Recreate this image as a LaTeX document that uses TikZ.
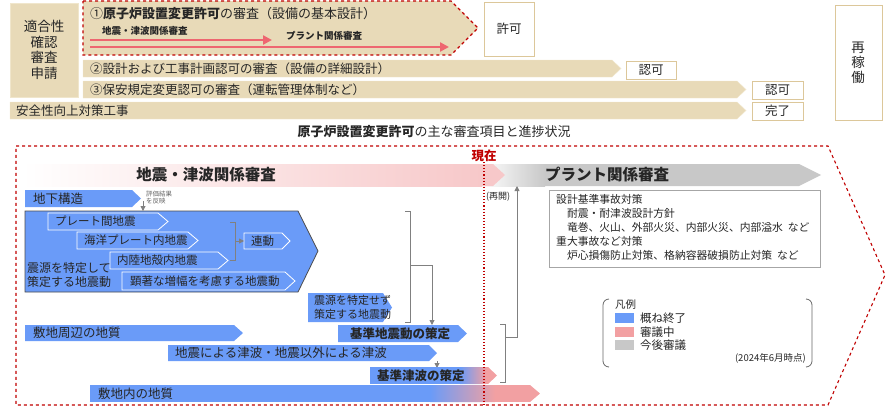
\documentclass[tikz,border=0pt]{standalone}
\usepackage{fontspec}
\setmainfont{Noto Sans CJK JP}
\usetikzlibrary{arrows.meta}
\definecolor{tan}{HTML}{E8DAB8}
\definecolor{tanb}{HTML}{F0E6CC}
\definecolor{tanline}{HTML}{DCC79A}
\definecolor{blu}{HTML}{6A9BF8}
\definecolor{pnk}{HTML}{F2A0A2}
\definecolor{lpnk}{HTML}{F7C8C9}
\definecolor{gry}{HTML}{C8C8C8}
\definecolor{dred}{HTML}{C00000}
\definecolor{arr}{HTML}{EE6670}
\newcommand\mypent[6][]{\path[#1] (#2,#3) -- ({#4-#6},#3) -- (#4,{(#3+#5)/2}) -- ({#4-#6},#5) -- (#2,#5) -- cycle;}
\tikzset{
 t/.style={font=\fontsize{12.5}{13}\selectfont,inner sep=0pt,anchor=west,text=black!85},
 tb/.style={t,font=\fontsize{11.5}{12}\selectfont},
 ts/.style={font=\fontsize{10.5}{12}\selectfont,inner sep=0pt,anchor=west,text=black!85},
 wbox/.style={draw=tanline,line width=0.8pt,fill=white},
 gline/.style={draw=black!50,line width=0.9pt},
 garr/.style={gline,-{Triangle[length=5pt,width=5pt]}},
}
\begin{document}
\begin{tikzpicture}[x=1pt,y=-1pt]
\useasboundingbox (0,0) rectangle (889,410);
% ---------- top section
\path[fill=tan,draw=tanb,line width=1pt] (10,3) rectangle (78,97);
\node[t,anchor=center,align=center,font=\fontsize{13.5}{15.5}\selectfont] (app) at (44,50) {適合性\\確認\\審査\\申請};
\mypent[fill=tan,draw=dred,dashed,line width=1.1pt]{83}{1}{478}{55}{27}
\node[t,font=\fontsize{13}{13}\selectfont] (r1) at (90,14) {①\textbf{原子炉設置変更許可}の審査（設備の基本設計）};
\draw[arr,line width=2.5pt,-{Triangle[length=9pt,width=9pt]}] (90,40) -- (272,40);
\draw[arr,line width=2.5pt,-{Triangle[length=9pt,width=9pt]}] (90,47) -- (449,47);
\node[ts,font=\bfseries\fontsize{9.5}{10}\selectfont] (l1) at (102,31) {地震・津波関係審査};
\node[ts,font=\bfseries\fontsize{9.5}{10}\selectfont] (l2) at (286,36) {プラント関係審査};
\path[wbox] (484,2) rectangle (534,56);
\node[t,anchor=center] (kyoka) at (509,29) {許可};
\mypent[fill=tan,draw=tanb]{83}{60}{621}{77}{9}
\node[t] (r2) at (90,69) {②設計および工事計画認可の審査（設備の詳細設計）};
\path[wbox] (626,61) rectangle (676,79);
\node[t,anchor=center] (n2) at (651,70) {認可};
\mypent[fill=tan,draw=tanb]{83}{81}{746}{98}{9}
\node[t] (r3) at (90,90) {③保安規定変更認可の審査（運転管理体制など）};
\path[wbox] (752,81) rectangle (803,99);
\node[t,anchor=center] (n3) at (777.5,90) {認可};
\mypent[fill=tan,draw=tanb]{10}{102}{746}{119}{9}
\node[t] (r4) at (16,111) {安全性向上対策工事};
\path[wbox] (752,102) rectangle (803,120);
\node[t,anchor=center] (n4) at (777.5,111) {完了};
\path[wbox] (835,5) rectangle (882,120);
\node[t,anchor=center,align=center,font=\fontsize{13.5}{15}\selectfont] (sai) at (858,63) {再\\稼\\働};
\node[t,anchor=center,font=\fontsize{13}{13}\selectfont] (cap) at (434,132) {\textbf{原子炉設置変更許可}の主な審査項目と進捗状況};
% ---------- bottom frame
\draw[dred,dashed,line width=1.1pt] (16,146) -- (828,146) -- (885,275) -- (828,405) -- (16,405) -- cycle;
\node[t,text=dred,font=\bfseries\fontsize{12.5}{13}\selectfont,anchor=center] (now) at (484,156) {現在};
% header bands
\mypent[fill=gry]{480}{164}{821}{186}{22}
\path[left color=white,right color=gry] (480,164) rectangle (545,186);
\path[left color=white,right color=lpnk] (22,164) rectangle (482,186);
\path[fill=lpnk] (482,164) -- (493,164) -- (505,175) -- (493,186) -- (482,186) -- cycle;
\node[t,font=\bfseries\fontsize{15.5}{16}\selectfont,anchor=center] (h1) at (206,175) {地震・津波関係審査};
\node[t,font=\bfseries\fontsize{15.5}{16}\selectfont,anchor=center] (h2) at (607,175) {プラント関係審査};
% left content
\mypent[fill=blu]{25}{190}{141}{207}{9}
\node[t] (chika) at (33,199) {地下構造};
\node[t,font=\fontsize{6.5}{7}\selectfont,align=left,text=black!60] (hyo) at (146,198) {評価結果\\を反映};
\draw[garr] (143,201) -- (143,211);
\path[fill=blu,draw=black!70,line width=0.8pt] (25,211) -- (298,211) -- (318,251) -- (298,292) -- (25,292) -- cycle;
\tikzset{wa/.style={fill=blu,draw=white,line width=0.8pt}}
\mypent[wa]{48}{213}{168}{230}{10}
\node[tb] (p1) at (55,221.5) {プレート間地震};
\mypent[wa]{77}{232}{198}{249}{10}
\node[tb] (p2) at (84,240.5) {海洋プレート内地震};
\mypent[wa]{110}{252}{228}{269}{10}
\node[tb] (p3) at (117,260.5) {内陸地殻内地震};
\mypent[wa]{122}{272}{295}{290}{10}
\node[tb] (p4) at (130,281) {顕著な増幅を考慮する地震動};
\node[t,align=left,font=\fontsize{12}{13.5}\selectfont] (p5) at (27,275) {震源を特定して\\策定する地震動};
\draw[gline] (230,222) -- (235,222) -- (235,260) -- (230,260);
\mypent[wa]{244}{233}{290}{249}{8}
\node[tb] (ren) at (251,241) {連動};
\draw[garr] (235,241) -- (244,241);
\mypent[fill=blu]{308}{293}{392}{322}{9}
\node[t,align=left,font=\fontsize{11}{13.5}\selectfont] (p6) at (314,307.5) {震源を特定せず\\策定する地震動};
\draw[gline] (405,211) -- (410,211) -- (410,322) -- (405,322);
\mypent[fill=blu]{25}{325}{243}{341}{9}
\node[t] (sh) at (33,333) {敷地周辺の地質};
\mypent[fill=blu]{338}{325}{467}{342}{9}
\node[t,font=\bfseries\fontsize{12.5}{13}\selectfont] (kj) at (350,333.5) {基準地震動の策定};
\draw[garr] (410,265) -- (432,265) -- (432,325);
\mypent[fill=blu]{168}{345}{437}{361}{8}
\node[t] (tsu) at (175,353) {地震による津波・地震以外による津波};
\draw[garr] (437,361) -- (437,368);
\begin{scope}
\mypent[clip]{370}{367}{497}{384}{9}
\fill[blu] (370,367) rectangle (460,384);
\path[left color=blu,right color=pnk] (460,367) rectangle (486,384);
\fill[pnk] (486,367) rectangle (500,384);
\end{scope}
\node[t,font=\bfseries\fontsize{12.5}{13}\selectfont] (kt) at (377,375.5) {基準津波の策定};
\begin{scope}
\mypent[clip]{90}{385}{540}{402}{10}
\fill[blu] (90,385) rectangle (430,402);
\path[left color=blu,right color=pnk] (430,385) rectangle (495,402);
\fill[pnk] (495,385) rectangle (541,402);
\end{scope}
\node[t] (shn) at (98,393.5) {敷地内の地質};
\draw[gline] (500,324) -- (505,324) -- (505,382) -- (500,382);
\draw[garr] (505,337) -- (517,337) -- (517,186);
\node[ts,font=\fontsize{9}{10}\selectfont] (sk) at (486,197) {(再開)};
\draw[dred,dotted,line width=1.1pt] (484,162) -- (484,405);
% right text box
\path[draw=black!35,line width=0.8pt,fill=white] (549,190) rectangle (820,267);
\node[ts,align=left,anchor=north west,font=\fontsize{10.8}{14}\selectfont] (plant) at (556,194) {設計基準事故対策\\\quad 耐震・耐津波設計方針\\\quad 竜巻、火山、外部火災、内部火災、内部溢水\ \ など\\重大事故など対策\\\quad 炉心損傷防止対策、格納容器破損防止対策\ \ など};
% legend
\draw[black!60,line width=0.8pt,rounded corners=6pt] (609,299) -- (603,299) -- (603,367) -- (609,367);
\draw[black!60,line width=0.8pt,rounded corners=6pt] (806,299) -- (812,299) -- (812,367) -- (806,367);
\node[ts] (hanrei) at (615,305) {凡例};
\fill[blu] (615,313) rectangle (634,323);
\fill[pnk] (615,327) rectangle (634,337);
\fill[gry] (615,340) rectangle (634,350);
\node[ts,font=\fontsize{11.5}{12}\selectfont] (lg1) at (640,318) {概ね終了};
\node[ts,font=\fontsize{11.5}{12}\selectfont] (lg2) at (640,332) {審議中};
\node[ts,font=\fontsize{11.5}{12}\selectfont] (lg3) at (640,345.5) {今後審議};
\node[ts,anchor=east,font=\fontsize{9.5}{10}\selectfont] (dt) at (806,358) {(2024年6月時点)};
\end{tikzpicture}
\end{document}
